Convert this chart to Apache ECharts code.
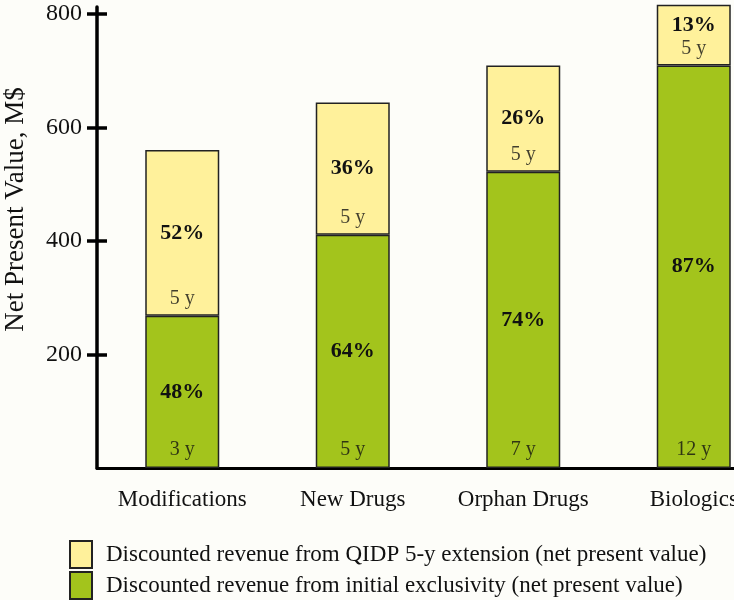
<!DOCTYPE html>
<html><head><meta charset="utf-8">
<script src="https://cdn.jsdelivr.net/npm/echarts@6/dist/echarts.min.js"></script>
<style>html,body{margin:0;padding:0;background:#fdfdf9}#c{width:734px;height:600px}</style>
</head><body><div id="c"></div>
<script>
const categories = ['Modifications', 'New Drugs', 'Orphan Drugs', 'Biologics'];
const initialValues = [268, 411, 522, 709];
const extensionValues = [292, 233, 187, 107];
const initialPct = ['48%', '64%', '74%', '87%'];
const extensionPct = ['52%', '36%', '26%', '13%'];
const initialYears = ['3 y', '5 y', '7 y', '12 y'];
const extensionYears = ['5 y', '5 y', '5 y', '5 y'];
const yTicks = [200, 400, 600, 800];
const yMin = 0, yMax = 812;

const FONT = 'Liberation Serif';
const GREEN = '#a3c41c', YELLOW = '#fff19b', EDGE = '#222';
const nameInitial = 'Discounted revenue from initial exclusivity (net present value)';
const nameExt = 'Discounted revenue from QIDP 5-y extension (net present value)';

const chart = echarts.init(document.getElementById('c'), null, {renderer: 'canvas'});
const pctLabel = {show: true, position: 'inside', fontFamily: FONT, fontWeight: 'bold', fontSize: 22, color: '#111'};
const yearLabel = {show: true, position: 'top', fontFamily: FONT, fontSize: 20, color: '#111'};
const legendBase = {
  orient: 'horizontal', left: 69, padding: 0, itemWidth: 22, itemHeight: 27, icon: 'rect',
  textStyle: {fontFamily: FONT, fontSize: 23, color: '#111', padding: [0, 0, 0, 9]}
};

chart.setOption({
  animation: false,
  backgroundColor: '#fdfdf9',
  grid: {left: 97, right: -45, top: 7, bottom: 132, outerBoundsMode: 'none', containLabel: false},
  xAxis: {
    type: 'category', data: categories,
    axisLine: {lineStyle: {color: '#000', width: 3}},
    axisTick: {show: false},
    axisLabel: {fontFamily: FONT, fontSize: 23, color: '#111', margin: 20}
  },
  yAxis: [{
    type: 'value', min: yMin, max: yMax,
    name: 'Net Present Value, M$', nameLocation: 'middle', nameGap: 68, nameRotate: 90,
    nameTextStyle: {fontFamily: FONT, fontSize: 27, color: '#111', padding: [0, 0, 0, 56]},
    axisLine: {show: true, lineStyle: {color: '#000', width: 3.5}},
    axisTick: {show: true, length: 10, customValues: yTicks, lineStyle: {color: '#000', width: 3.5}},
    axisLabel: {fontFamily: FONT, fontSize: 24, color: '#111', margin: 15, customValues: yTicks},
    splitLine: {show: false}
  }, {
    type: 'value', min: yMin, max: yMax, position: 'left',
    axisLine: {show: false},
    axisTick: {show: true, inside: true, length: 10, customValues: yTicks, lineStyle: {color: '#000', width: 3.5}},
    axisLabel: {show: false}, splitLine: {show: false}
  }],
  legend: [
    Object.assign({}, legendBase, {top: 540, data: [nameExt]}),
    Object.assign({}, legendBase, {top: 571, data: [nameInitial]})
  ],
  series: [{
    name: nameInitial, type: 'bar', stack: 'a', barWidth: 74, clip: false,
    itemStyle: {color: GREEN, borderColor: EDGE, borderWidth: 1.5},
    label: Object.assign({}, pctLabel, {formatter: p => initialPct[p.dataIndex]}),
    data: initialValues
  }, {
    name: nameExt, type: 'bar', stack: 'a', barWidth: 74, clip: false,
    itemStyle: {color: YELLOW, borderColor: EDGE, borderWidth: 1.5},
    label: Object.assign({}, pctLabel, {formatter: p => extensionPct[p.dataIndex]}),
    data: extensionValues.map(v => v < 150 ? {value: v, label: {offset: [0, -10]}} : v)
  }, {
    name: 'initYears', type: 'scatter', symbolSize: 0, clip: false, z: 5,
    label: Object.assign({}, yearLabel, {distance: 8, formatter: p => initialYears[p.dataIndex]}),
    data: categories.map(c => [c, 0])
  }, {
    name: 'extYears', type: 'scatter', symbolSize: 0, clip: false, z: 5,
    label: Object.assign({}, yearLabel, {distance: 7, formatter: p => extensionYears[p.dataIndex]}),
    data: categories.map((c, i) => [c, initialValues[i]])
  }]
});
</script></body></html>
